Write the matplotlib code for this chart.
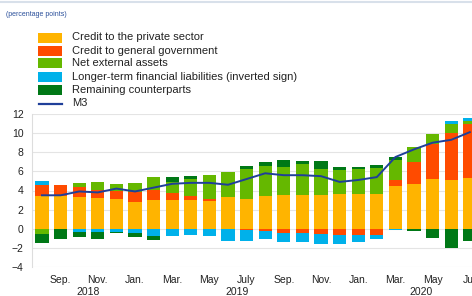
import numpy as np
import matplotlib
matplotlib.use("Agg")
import matplotlib.pyplot as plt
from matplotlib.patches import Rectangle
from matplotlib.lines import Line2D

plt.rcParams['font.family'] = ['Liberation Sans', 'DejaVu Sans']

# ---------------- data ----------------
months = ["Aug", "Sep.", "Oct", "Nov.", "Dec", "Jan.", "Feb", "Mar.", "Apr", "May", "Jun", "July",
          "Aug", "Sep.", "Oct", "Nov.", "Dec", "Jan.", "Feb", "Mar.", "Apr", "May", "Jun", "Jul"]
shown_ticks = [1, 3, 5, 7, 9, 11, 13, 15, 17, 19, 21, 23]
years = ["2018", "2019", "2020"]
year_pos = [2.5, 10.5, 20.4]

private = [3.4, 3.4, 3.35, 3.2, 3.1, 2.8, 3.05, 3.05, 3.0, 2.9, 3.3, 3.15,
           3.4, 3.5, 3.5, 3.5, 3.6, 3.6, 3.6, 4.5, 4.7, 5.25, 5.05, 5.3]
government = [1.2, 1.15, 1.0, 0.9, 0.9, 1.0, 1.0, 0.65, 0.45, 0.2, -0.05, -0.15,
              -0.2, -0.4, -0.45, -0.5, -0.65, -0.65, -0.65, 0.65, 2.3, 3.65, 4.95, 5.7]
net_external = [-0.5, 0.0, 0.45, 0.8, 0.7, 0.95, 1.4, 1.2, 1.75, 2.55, 2.6, 3.1,
                3.2, 2.95, 3.3, 2.75, 2.5, 2.7, 2.75, 2.05, 1.55, 1.0, 1.0, 0.3]
longer_term = [0.4, 0.0, -0.35, -0.35, -0.35, -0.4, -0.75, -0.75, -0.65, -0.8, -1.2, -1.15,
               -0.9, -1.0, -0.9, -1.05, -0.95, -0.7, -0.45, -0.1, 0.0, 0.0, 0.3, 0.25]
remaining = [-0.95, -1.05, -0.55, -0.75, -0.1, -0.5, -0.4, 0.55, 0.3, 0.0, 0.0, 0.35,
             0.4, 0.7, 0.3, 0.85, 0.35, 0.2, 0.3, 0.35, -0.25, -0.95, -2.0, -1.3]
m3 = [3.5, 3.5, 3.9, 3.8, 4.2, 3.9, 4.3, 4.7, 4.8, 4.8, 4.6, 5.2,
      5.8, 5.6, 5.6, 5.5, 4.9, 5.1, 5.4, 7.5, 8.3, 9.0, 9.3, 10.1]

series_labels = ["Credit to the private sector", "Credit to general government",
                 "Net external assets", "Longer-term financial liabilities (inverted sign)",
                 "Remaining counterparts"]
line_label = "M3"
subtitle = "(percentage points)"

colors = ["#FFB400", "#FF4B00", "#65B800", "#00B1EA", "#007816"]
line_color = "#1F3F99"

# ---------------- figure ----------------
W, H = 472, 296
fig = plt.figure(figsize=(W / 100, H / 100), dpi=100)

x0_px, unit_px = 42.0, 18.6
xmin, xmax = -0.54, 24.0
ax_left = x0_px + xmin * unit_px
ax_w = (xmax - xmin) * unit_px
y_top, y_bot = 114, 267
ax = fig.add_axes([ax_left / W, (H - y_bot) / H, ax_w / W, (y_bot - y_top) / H])

x = np.arange(len(months))
series = [private, government, net_external, longer_term, remaining]
pos_bottom = np.zeros(len(x))
neg_bottom = np.zeros(len(x))
for vals, c in zip(series, colors):
    v = np.array(vals, dtype=float)
    bottom = np.where(v >= 0, pos_bottom, neg_bottom)
    ax.bar(x, v, width=0.7, bottom=bottom, color=c, linewidth=0, zorder=2)
    pos_bottom += np.where(v >= 0, v, 0)
    neg_bottom += np.where(v < 0, v, 0)

ax.plot(x, m3, color=line_color, lw=1.4, zorder=3)

ax.set_xlim(xmin, xmax)
ax.set_ylim(-4, 12)
ax.set_yticks(np.arange(-4, 13, 2))
ax.yaxis.grid(True, color="#e4e4e4", lw=0.8, zorder=0)
ax.set_axisbelow(True)
for s in ["top", "right", "bottom"]:
    ax.spines[s].set_visible(False)
ax.spines["left"].set_color("#dddddd")
ax.spines["left"].set_linewidth(0.8)
ax.tick_params(axis="both", length=0, labelsize=7.5, colors="#222222")
ax.tick_params(axis="y", pad=6)
ax.set_xticks(shown_ticks)
ax.set_xticklabels([months[i] for i in shown_ticks])
ax.tick_params(axis="x", pad=6)

trans = matplotlib.transforms.blended_transform_factory(ax.transData, fig.transFigure)
for yl, xp in zip(years, year_pos):
    ax.text(xp, 1 - 292 / H, yl, transform=trans, ha="center", va="center",
            fontsize=7.5, color="#222222")

# subtitle
fig.text(6 / W, 1 - 14 / H, subtitle, fontsize=5, color="#2a4f9a", ha="left", va="center")
# thin top rule
fig.add_artist(Line2D([0, 1], [1 - 1.5 / H, 1 - 1.5 / H], transform=fig.transFigure,
                      color="#d8e0ea", lw=1.5))

# legend (manual)
row_y = [37.5, 50.5, 63.5, 77, 90]
for lab, c, ry in zip(series_labels, colors, row_y):
    fig.add_artist(Rectangle((38 / W, 1 - (ry + 5) / H), 24 / W, 10 / H,
                             transform=fig.transFigure, color=c, lw=0))
    fig.text(72.5 / W, 1 - ry / H, lab, fontsize=8, color="#222222", ha="left", va="center")
ry = 103.5
fig.add_artist(Line2D([39 / W, 62 / W], [1 - ry / H, 1 - ry / H], transform=fig.transFigure,
                      color=line_color, lw=1.6))
fig.text(72.5 / W, 1 - ry / H, line_label, fontsize=8, color="#222222", ha="left", va="center")

fig.savefig("out.png", dpi=100)
